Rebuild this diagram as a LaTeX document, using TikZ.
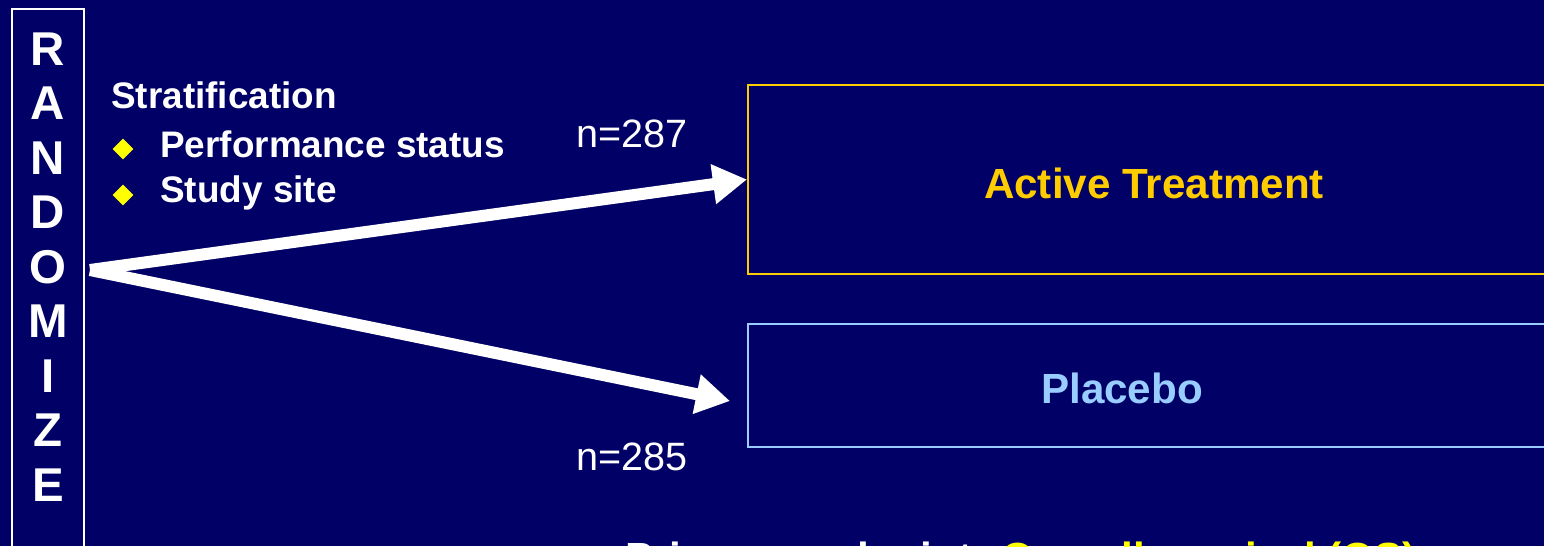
\documentclass[tikz,border=0pt]{standalone}
\usepackage{fontspec}
\setmainfont{Liberation Sans}
\usetikzlibrary{arrows.meta,shapes.geometric}
\definecolor{Fond}{RGB}{0,0,102}
\definecolor{Or}{RGB}{255,204,0}
\definecolor{BleuClair}{RGB}{153,204,255}
\definecolor{Jaune}{RGB}{255,255,0}

\begin{document}
\begin{tikzpicture}[x=0.2mm, y=-0.2mm,
    cadre/.style={draw, line width=0.4mm, anchor=north west, inner sep=0pt},
    fleche/.style={white, line width=2.4mm, -{Triangle[length=6.8mm,width=7.6mm]}},
    lettre/.style={white, font=\fontsize{27}{30}\selectfont\bfseries, inner sep=0pt},
    puce/.style={diamond, fill=Jaune, minimum size=4.2mm, inner sep=0pt},
    texte/.style={white, font=\fontsize{21}{25}\selectfont\bfseries, anchor=base west, inner sep=0pt},
    nombre/.style={white, font=\fontsize{22.5}{27}\selectfont, anchor=base west, inner sep=0pt},
    bras/.style={font=\fontsize{24}{29}\selectfont\bfseries, anchor=base, inner sep=0pt}]
    % Fond
    \path[use as bounding box, fill=Fond] (0,0) rectangle (1544,546);

    % Randomisation
    \node[cadre, draw=white, minimum width=14.4mm, minimum height=110.4mm] (rand) at (11,8) {};
    \foreach \l [count=\i] in {R,A,N,D,O,M,I,Z,E}
        \node[lettre] (l\i) at (48, {49+54.5*(\i-1)}) {\l};

    % Stratification
    \node[texte] (strat) at (111,108) {Stratification};
    \node[puce] (p1) at (123,149) {};
    \node[texte] (crit1) at (160,157) {Performance status};
    \node[puce] (p2) at (123,195) {};
    \node[texte] (crit2) at (160,202) {Study site};

    % Bras
    \node[cadre, draw=Or, minimum width=162.4mm, minimum height=37.8mm] (active) at (747,84) {};
    \node[cadre, draw=BleuClair, minimum width=162.4mm, minimum height=24.6mm] (placebo) at (747,323) {};
    \node[bras, Or] (activelbl) at (1154,198) {Active Treatment};
    \node[bras, BleuClair] (placebolbl) at (1122,403) {Placebo};

    % Fleches
    \coordinate (depart) at (90,270);
    \draw[fleche] (depart) -- (active.west);
    \draw[fleche] (depart) -- ([shift={(-17,15.5)}]placebo.west);
    \node[nombre] (n1) at (576,147) {n=287};
    \node[nombre] (n2) at (576,470) {n=285};

    % Critere principal
    \node[bras, white, anchor=base west] (critere) at (625,572) {Primary endpoint: \textcolor{Jaune}{Overall survival (OS)}};
\end{tikzpicture}
\end{document}
